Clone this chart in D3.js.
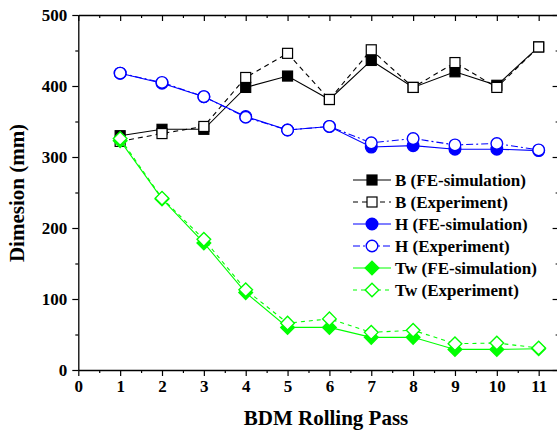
<!DOCTYPE html>
<html><head><meta charset="utf-8">
<script src="https://cdn.jsdelivr.net/npm/d3@7"></script>
<style>body{margin:0;background:#fff}svg{display:block}</style>
</head><body><div id="chart"></div>
<script>
const passes = [1,2,3,4,5,6,7,8,9,10,11];
const bFE  = [330,339,339,398,414,381,436,398,420,401,455];
const bExp = [322,333,343,412,446,381,451,398,433,398,455];
const hFE  = [418,404,385,357,338,343,314,316,311,311,309];
const hExp = [418,405,385,356,338,343,320,326,317,319,310];
const twFE = [323,241,179,109,60,60,46,46,29,29,30];
const twExp= [326,242,184,113,66,72,53,56,37,38,31];
const xTicks = [0,1,2,3,4,5,6,7,8,9,10,11];
const yTicks = [0,100,200,300,400,500];
const seriesNames = ["B (FE-simulation)","B (Experiment)","H (FE-simulation)","H (Experiment)","Tw (FE-simulation)","Tw (Experiment)"];

(function(){
const W=557,H=430;
const FONT="'Liberation Serif','Times New Roman',serif";
const svg=d3.select("#chart").append("svg").attr("width",W).attr("height",H);
const x=d3.scaleLinear().domain([0,11.5]).range([78.3,559.6]);
const y=d3.scaleLinear().domain([0,500]).range([370,15]);

const series=[
 {name:seriesNames[0],vals:bFE,color:"#000",dash:null,shape:"square",fill:true},
 {name:seriesNames[1],vals:bExp,color:"#000",dash:"5,4",shape:"square",fill:false},
 {name:seriesNames[2],vals:hFE,color:"#0000ff",dash:null,shape:"circle",fill:true},
 {name:seriesNames[3],vals:hExp,color:"#0000ff",dash:"7,3,2,3",shape:"circle",fill:false},
 {name:seriesNames[4],vals:twFE,color:"#00ff00",dash:null,shape:"diamond",fill:true},
 {name:seriesNames[5],vals:twExp,color:"#00ff00",dash:"4,4",shape:"diamond",fill:false}
];

function marker(g,s,cx,cy){
  const fill=s.fill?s.color:"#fff";
  if(s.shape==="square"){
    g.append("rect").attr("x",cx-5).attr("y",cy-5).attr("width",10).attr("height",10)
      .attr("fill",fill).attr("stroke",s.color).attr("stroke-width",1.2);
  } else if(s.shape==="circle"){
    g.append("circle").attr("cx",cx).attr("cy",cy).attr("r",5.8)
      .attr("fill",fill).attr("stroke",s.color).attr("stroke-width",1.4);
  } else {
    const r=6.8;
    g.append("path").attr("d",`M${cx},${cy-r}L${cx+r},${cy}L${cx},${cy+r}L${cx-r},${cy}Z`)
      .attr("fill",fill).attr("stroke",s.color).attr("stroke-width",1.4);
  }
}

const line=d3.line().x((d,i)=>x(passes[i])).y(d=>y(d));
series.forEach(s=>{
  const g=svg.append("g");
  g.append("path").attr("d",line(s.vals)).attr("fill","none").attr("stroke",s.color)
    .attr("stroke-width",1.1).attr("stroke-dasharray",s.dash);
  s.vals.forEach((v,i)=>marker(g,s,x(passes[i]),y(v)));
});

const minorX=d3.range(0.5,11.5,1);
const minorY=d3.range(50,500,100);
function styleAxis(g){
  g.select(".domain").attr("stroke","#000").attr("stroke-width",1.3);
  g.selectAll(".tick line").attr("stroke","#000").attr("stroke-width",1.2);
}
function minor(g){g.select(".domain").remove();g.selectAll("line").attr("stroke","#000").attr("stroke-width",1.2);}

const axB=svg.append("g").attr("transform","translate(0,370)")
  .call(d3.axisBottom(x).tickValues(xTicks).tickFormat(d3.format("d")).tickSize(6).tickSizeOuter(0).tickPadding(4));
styleAxis(axB);
axB.selectAll("text").attr("font-family",FONT).attr("font-weight","bold").attr("font-size",17).attr("fill","#000");
svg.append("g").attr("transform","translate(0,370)")
  .call(d3.axisBottom(x).tickValues(minorX).tickFormat("").tickSize(3).tickSizeOuter(0)).call(minor);

const axT=svg.append("g").attr("transform","translate(0,15)")
  .call(d3.axisBottom(x).tickValues(xTicks).tickFormat("").tickSize(6).tickSizeOuter(0));
styleAxis(axT);
svg.append("g").attr("transform","translate(0,15)")
  .call(d3.axisBottom(x).tickValues(minorX).tickFormat("").tickSize(3).tickSizeOuter(0)).call(minor);

const axL=svg.append("g").attr("transform","translate(78.3,0)")
  .call(d3.axisLeft(y).tickValues(yTicks).tickSize(6).tickSizeOuter(0).tickPadding(5));
styleAxis(axL);
axL.selectAll("text").attr("font-family",FONT).attr("font-weight","bold").attr("font-size",17).attr("fill","#000");
svg.append("g").attr("transform","translate(78.3,0)")
  .call(d3.axisLeft(y).tickValues(minorY).tickFormat("").tickSize(3).tickSizeOuter(0)).call(minor);

const axR=svg.append("g").attr("transform","translate(559.6,0)")
  .call(d3.axisLeft(y).tickValues(yTicks).tickFormat("").tickSize(7).tickSizeOuter(0));
styleAxis(axR);
svg.append("g").attr("transform","translate(559.6,0)")
  .call(d3.axisLeft(y).tickValues(minorY).tickFormat("").tickSize(4).tickSizeOuter(0)).call(minor);

svg.append("text").attr("x",326).attr("y",425).attr("text-anchor","middle")
  .attr("font-family",FONT).attr("font-weight","bold").attr("font-size",21).text("BDM Rolling Pass");
svg.append("text").attr("transform","translate(24,193) rotate(-90)").attr("text-anchor","middle")
  .attr("font-family",FONT).attr("font-weight","bold").attr("font-size",21).text("Dimesion (mm)");

const lg=svg.append("g");
series.forEach((s,i)=>{
  const cy=180+i*22;
  lg.append("line").attr("x1",353).attr("x2",391).attr("y1",cy).attr("y2",cy)
    .attr("stroke",s.color).attr("stroke-width",1.1).attr("stroke-dasharray",s.dash);
  marker(lg,s,372,cy);
  lg.append("text").attr("x",395).attr("y",cy+5.5).attr("font-family",FONT).attr("font-weight","bold")
    .attr("font-size",17).attr("fill","#000").text(s.name);
});
})();
</script></body></html>
